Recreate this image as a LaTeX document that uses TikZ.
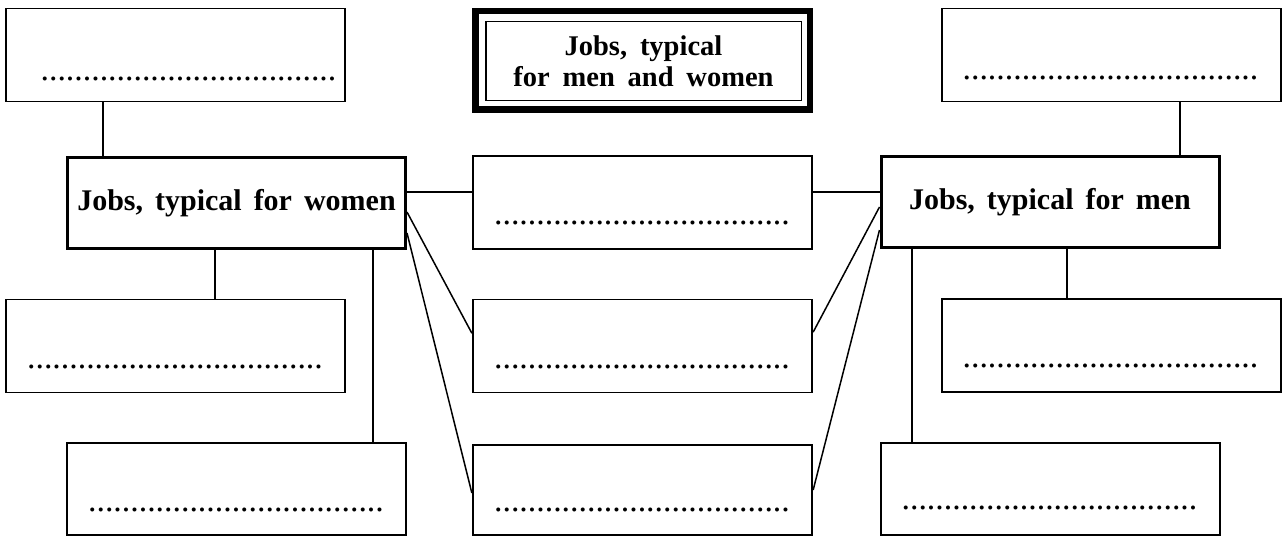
\documentclass[tikz,border=0pt]{standalone}
\usepackage{fontspec}
\setmainfont{Liberation Serif}
\usetikzlibrary{calc}
\newcommand\jobdots{...................................}
\newcommand\headfont{\fontsize{30}{31}\selectfont\bfseries\setlength{\spaceskip}{0.4em}}
\newcommand\titlefont{\fontsize{28.5}{31}\selectfont\bfseries\setlength{\spaceskip}{0.45em}}
\begin{document}
\begin{tikzpicture}[x=1pt,y=-1pt,
  box/.style={draw, rectangle, inner sep=0pt, line width=1.8pt, minimum width=339.5pt, minimum height=93pt},
  headbox/.style={draw, rectangle, inner sep=0pt, line width=3pt, minimum width=338pt, minimum height=91pt, font=\headfont},
  dots/.style={inner sep=0pt, anchor=base, font=\fontsize{33.8}{34}\selectfont},
  conn/.style={line width=1.5pt}]
\useasboundingbox (0,0) rectangle (1287,537);

% title
\node[draw, rectangle, inner sep=0pt, line width=6.5pt, minimum width=334.5pt, minimum height=98.5pt] (T0) at (642.5,60.5) {};
\node[draw, rectangle, inner sep=0pt, line width=1.5pt, minimum width=315.5pt, minimum height=79pt, align=center,
     font=\titlefont] (T1) at (643.5,61) {Jobs, typical\\for men and women};

% main boxes
\node[headbox] (W) at (236.5,203) {Jobs, typical for women};
\node[headbox] (Men) at (1050,202) {Jobs, typical for men};

% answer boxes
\node[box] (TL) at (175.5,55) {};
\node[box] (TR) at (1111.5,55) {};
\node[box] (MT) at (642.5,202.5) {};
\node[box] (LM) at (175.5,346) {};
\node[box] (MM) at (642.5,346) {};
\node[box] (RM) at (1111.5,345.5) {};
\node[box, minimum height=92pt] (LB) at (236.5,489) {};
\node[box, minimum height=90pt] (MB) at (642.5,490) {};
\node[box, minimum height=92pt] (RB) at (1050.5,489) {};

% dotted answer lines
\node[dots] (dTL) at (188.5,80.7) {\jobdots};
\node[dots] (dTR) at (1110.5,79.7) {\jobdots};
\node[dots] (dMT) at (642,224.7) {\jobdots};
\node[dots] (dLM) at (175,368.7) {\jobdots};
\node[dots] (dMM) at (642,368.7) {\jobdots};
\node[dots] (dRM) at (1110.5,367.7) {\jobdots};
\node[dots] (dLB) at (236,511.7) {\jobdots};
\node[dots] (dMB) at (642,511.7) {\jobdots};
\node[dots] (dRB) at (1049.5,509.7) {\jobdots};

% helper coordinates
\coordinate (xa) at (103,0);
\coordinate (xb) at (215,0);
\coordinate (xc) at (373,0);
\coordinate (xd) at (1180,0);
\coordinate (xe) at (1067,0);
\coordinate (xf) at (912,0);
\coordinate (yh) at (0,192);

% connectors
\draw[conn] (TL.south -| xa) -- (W.north -| xa);
\draw[conn] (W.south -| xb) -- (LM.north -| xb);
\draw[conn] (W.south -| xc) -- (LB.north -| xc);
\draw[conn] (W.east |- yh) -- (MT.west |- yh);
\draw[conn] (MT.east |- yh) -- (Men.west |- yh);
\draw[conn] ($(W.north east)!0.596!(W.south east)$) -- ($(MM.north west)!0.365!(MM.south west)$);
\draw[conn] ($(W.north east)!0.819!(W.south east)$) -- ($(MB.north west)!0.533!(MB.south west)$);
\draw[conn] ($(MM.north east)!0.354!(MM.south east)$) -- ($(Men.north west)!0.553!(Men.south west)$);
\draw[conn] ($(MB.north east)!0.5!(MB.south east)$) -- ($(Men.north west)!0.798!(Men.south west)$);
\draw[conn] (TR.south -| xd) -- (Men.north -| xd);
\draw[conn] (Men.south -| xe) -- (RM.north -| xe);
\draw[conn] (Men.south -| xf) -- (RB.north -| xf);
\end{tikzpicture}
\end{document}
